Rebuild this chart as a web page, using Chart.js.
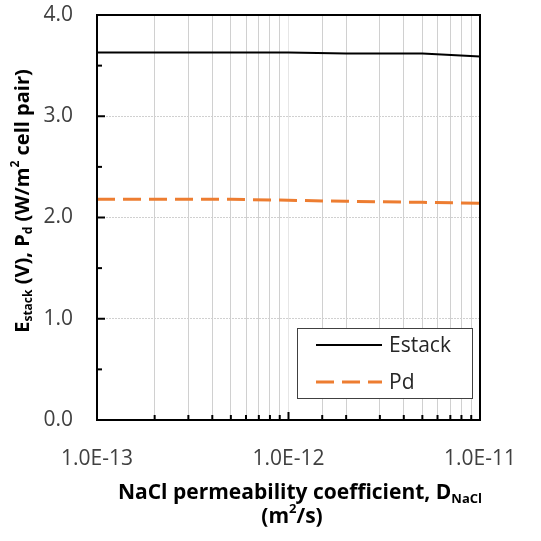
<!DOCTYPE html>
<html>
<head>
<meta charset="utf-8">
<script src="https://cdn.jsdelivr.net/npm/chart.js@4"></script>
<style>
  html, body { margin: 0; padding: 0; background: #fff; }
  #wrap { width: 541px; height: 541px; position: relative; }
</style>
</head>
<body>
<div id="wrap"><canvas id="chart" width="541" height="541"></canvas></div>
<script>
// data
const permeability = [1e-13, 2e-13, 5e-13, 1e-12, 2e-12, 5e-12, 1e-11];
const estack = [3.63, 3.63, 3.63, 3.63, 3.62, 3.62, 3.59];
const pd = [2.18, 2.18, 2.18, 2.17, 2.16, 2.15, 2.14];
const seriesNames = ['Estack', 'Pd'];
const xMajorTicks = [1e-13, 1e-12, 1e-11];

const FONT = '"Open Sans", Lato, sans-serif';
const ORANGE = '#ED7D31';

function isMajor(v) {
    return xMajorTicks.some(m => Math.abs(Math.log10(v) - Math.log10(m)) < 1e-6);
}

// draws a title made of parts [text, mode], mode '' | 'sub' | 'sup'
function drawRich(ctx, parts, x, y, size, align) {
    const fontFor = m => `bold ${m ? Math.round(size * 0.62) : size}px ${FONT}`;
    const widths = parts.map(([t, m]) => {
        ctx.font = fontFor(m);
        return ctx.measureText(t).width;
    });
    const total = widths.reduce((a, b) => a + b, 0);
    let cx = align === 'center' ? x - total / 2 : x;
    parts.forEach(([t, m], i) => {
        ctx.font = fontFor(m);
        let dy = 0;
        if (m === 'sub') dy = size * 0.3;
        if (m === 'sup') dy = -size * 0.36;
        ctx.fillText(t, cx, y + dy);
        cx += widths[i];
    });
}

const framePlugin = {
    id: 'frame',
    afterDraw(chart) {
        const ctx = chart.ctx;
        const a = chart.chartArea;
        const xs = chart.scales.x;
        const ys = chart.scales.y;
        ctx.save();

        // inward tick marks
        ctx.strokeStyle = '#000';
        ctx.lineWidth = 2;
        ys.ticks.forEach(t => {
            const py = ys.getPixelForValue(t.value);
            const len = Math.abs(t.value - Math.round(t.value)) < 1e-6 ? 8 : 5;
            ctx.beginPath();
            ctx.moveTo(a.left, py);
            ctx.lineTo(a.left + len, py);
            ctx.stroke();
        });
        xs.ticks.forEach(t => {
            const px = xs.getPixelForValue(t.value);
            const len = isMajor(t.value) ? 8 : 5;
            ctx.beginPath();
            ctx.moveTo(px, a.bottom);
            ctx.lineTo(px, a.bottom - len);
            ctx.stroke();
        });

        // plot frame
        ctx.strokeRect(a.left, a.top, a.right - a.left, a.bottom - a.top);

        // legend box
        const lx = 297, ly = 328, lw = 175, lh = 70;
        ctx.fillStyle = '#fff';
        ctx.fillRect(lx, ly, lw, lh);
        ctx.lineWidth = 1;
        ctx.strokeStyle = '#404040';
        ctx.strokeRect(lx + 0.5, ly + 0.5, lw, lh);
        chart.data.datasets.forEach((ds, i) => {
            const y = ly + 17 + i * 37;
            ctx.beginPath();
            ctx.strokeStyle = ds.borderColor;
            ctx.lineWidth = ds.borderWidth;
            ctx.setLineDash(ds.borderDash || []);
            ctx.moveTo(lx + 19, y);
            ctx.lineTo(lx + 85, y);
            ctx.stroke();
            ctx.setLineDash([]);
            ctx.fillStyle = '#262626';
            ctx.font = `21px ${FONT}`;
            ctx.textBaseline = 'middle';
            ctx.textAlign = 'left';
            ctx.fillText(ds.label, lx + 92, y + 1);
        });

        // axis titles
        ctx.fillStyle = '#000';
        ctx.textBaseline = 'middle';
        ctx.textAlign = 'left';
        drawRich(ctx, [['NaCl permeability coefficient, D', ''], ['NaCl', 'sub']], 300, 493, 21, 'center');
        drawRich(ctx, [['(m', ''], ['2', 'sup'], ['/s)', '']], 292, 517, 21, 'center');

        ctx.translate(23, 201);
        ctx.rotate(-Math.PI / 2);
        drawRich(ctx, [['E', ''], ['stack', 'sub'], [' (V), P', ''], ['d', 'sub'],
            [' (W/m', ''], ['2', 'sup'], [' cell pair)', '']], 0, 0, 20, 'center');
        ctx.restore();
    }
};

new Chart(document.getElementById('chart'), {
    type: 'line',
    data: {
        datasets: [
            {
                label: seriesNames[0],
                data: permeability.map((x, i) => ({ x: x, y: estack[i] })),
                borderColor: '#000',
                borderWidth: 2,
                pointRadius: 0,
                tension: 0
            },
            {
                label: seriesNames[1],
                data: permeability.map((x, i) => ({ x: x, y: pd[i] })),
                borderColor: ORANGE,
                borderWidth: 3,
                borderDash: [18, 8],
                pointRadius: 0,
                tension: 0
            }
        ]
    },
    options: {
        responsive: false,
        animation: false,
        events: [],
        layout: { padding: { top: 15, right: 61, left: 0, bottom: 0 } },
        plugins: {
            legend: { display: false },
            tooltip: { enabled: false }
        },
        scales: {
            x: {
                type: 'logarithmic',
                min: 1e-13,
                max: 1e-11,
                afterFit: s => {
                    s.height = 121;
                    s.paddingLeft = 0;
                    s.paddingRight = 0;
                },
                border: { display: false },
                grid: {
                    drawTicks: false,
                    lineWidth: 1,
                    color: ctx => {
                        const v = ctx.tick && ctx.tick.value;
                        if (v === undefined) return 'transparent';
                        if (v <= 1e-13 * 1.0001 || v >= 1e-11 * 0.9999) return 'transparent';
                        return isMajor(v) ? '#e6e6e6' : '#d0d0d0';
                    }
                },
                ticks: {
                    autoSkip: false,
                    maxRotation: 0,
                    padding: 26,
                    color: '#404040',
                    font: { family: FONT, size: 21 },
                    callback: v => isMajor(v) ? Number(v).toExponential(1).toUpperCase() : ''
                }
            },
            y: {
                min: 0,
                max: 4,
                afterFit: s => {
                    s.width = 97;
                    s.paddingTop = 0;
                    s.paddingBottom = 0;
                },
                border: { display: false, dash: [2, 1] },
                grid: {
                    drawTicks: false,
                    color: ctx => {
                        const v = ctx.tick && ctx.tick.value;
                        if (v === undefined || v <= 0 || v >= 4) return 'transparent';
                        return Math.abs(v - Math.round(v)) < 1e-6 ? '#d0d0d0' : 'transparent';
                    }
                },
                ticks: {
                    stepSize: 0.5,
                    padding: 24,
                    color: '#404040',
                    font: { family: FONT, size: 21 },
                    callback: v => Math.abs(v - Math.round(v)) < 1e-6 ? Number(v).toFixed(1) : ''
                }
            }
        }
    },
    plugins: [framePlugin]
});
</script>
</body>
</html>
